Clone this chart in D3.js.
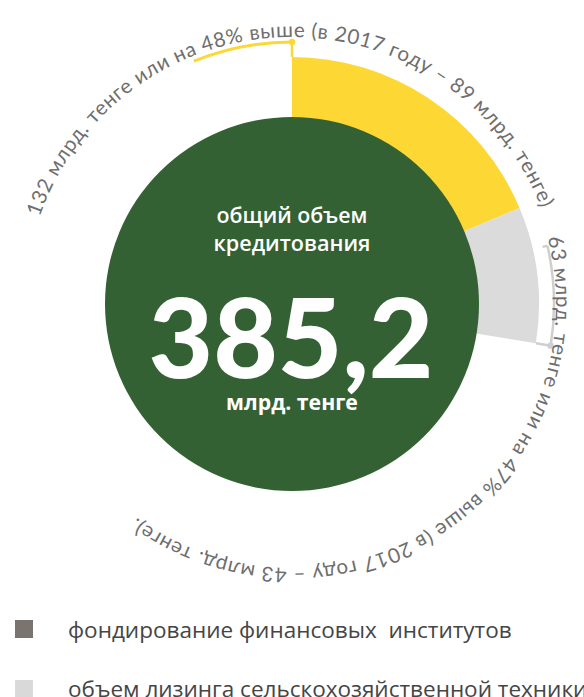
<!DOCTYPE html>
<html>
<head>
<meta charset="utf-8">
<script src="https://cdn.jsdelivr.net/npm/d3@7"></script>
<style>
  html, body { margin: 0; padding: 0; background: #ffffff; overflow: hidden; }
  svg { display: block; }
</style>
</head>
<body>
<svg id="chart" width="584" height="697"></svg>
<script>
// ---- data ----
const categories = ["фондирование финансовых  институтов", "объем лизинга сельскохозяйственной техники"];
const values2018 = [132, 63];
const values2017 = [89, 43];
const growthPct = [48, 47];
const totalLabel = "385,2";
const totalUnit = "млрд. тенге";
const centerTitle = ["общий объем", "кредитования"];

// ---- layout & style ----
const W = 584, H = 697;
const cx = 292, cy = 304;
const coreR = 187;        // green disc
const ringR = 247;        // outer edge of the segments
const bracketR = 262;     // thin callout arcs
const fullTurn = 708;     // value mapped to one full revolution
const segColors = ["#fdd835", "#dcdbdc"];
const bracketColors = ["#fdd835", "#cfcfcf"];
const swatchColors = ["#7a7470", "#d9d9d9"];
const green = "#336133";
const labelGray = "#6e6e6e";
const deg = Math.PI / 180;

const svg = d3.select("#chart");
const g = svg.append("g").attr("transform", `translate(${cx},${cy})`);

const angle = d3.scaleLinear().domain([0, fullTurn]).range([0, 2 * Math.PI]);

// cumulative segment extents
let acc = 0;
const segs = values2018.map((v, i) => {
  const s = { i, v, a0: angle(acc), a1: angle(acc + v) };
  acc += v;
  return s;
});

// ---- segments ----
const arcGen = d3.arc().innerRadius(coreR - 4).outerRadius(ringR);
g.selectAll("path.seg").data(segs).join("path")
  .attr("class", "seg")
  .attr("d", d => arcGen({ startAngle: d.a0, endAngle: d.a1 }))
  .attr("fill", d => segColors[d.i]);

// polar helper: angle measured clockwise from 12 o'clock
const pt = (r, a) => [r * Math.sin(a), -r * Math.cos(a)];
function arcPath(r, a0, a1) {
  const p = d3.path();
  const [x0, y0] = pt(r, a0);
  p.moveTo(x0, y0);
  p.arc(0, 0, r, a0 - Math.PI / 2, a1 - Math.PI / 2, a1 < a0);
  return p.toString();
}

// ---- callout brackets ----
const bracketSpan = 22 * deg;
segs.forEach(s => {
  const anchor = s.i === 0 ? s.a0 : s.a1;
  const from = anchor - bracketSpan;
  const col = bracketColors[s.i];
  g.append("path").attr("d", arcPath(bracketR, from, anchor))
    .attr("fill", "none").attr("stroke", col).attr("stroke-width", s.i === 0 ? 3 : 2.5);
  const [x1, y1] = pt(bracketR, anchor), [x2, y2] = pt(ringR, anchor);
  g.append("line").attr("x1", x1).attr("y1", y1).attr("x2", x2).attr("y2", y2)
    .attr("stroke", col).attr("stroke-width", 2.5);
  g.append("circle").attr("cx", x1).attr("cy", y1).attr("r", 3.2).attr("fill", col);
  if (s.i === 1) {
    const [u1, v1] = pt(bracketR, from), [u2, v2] = pt(bracketR - 5, from);
    g.append("line").attr("x1", u1).attr("y1", v1).attr("x2", u2).attr("y2", v2)
      .attr("stroke", col).attr("stroke-width", 2.5);
  }
});

// ---- curved value labels ----
const labelText = segs.map(s =>
  `${values2018[s.i]} млрд. тенге или на ${growthPct[s.i]}% выше (в 2017 году – ${values2017[s.i]} млрд. тенге)` + (s.i === 1 ? "." : ""));
const labelArcs = [
  { r: 267, a0: -71 * deg, a1: 69 * deg },
  { r: 264, a0: 75.5 * deg, a1: 216 * deg }
];
const defs = svg.append("defs");
labelArcs.forEach((la, i) => {
  defs.append("path").attr("id", "lbl" + i).attr("d", arcPath(la.r, la.a0, la.a1));
  g.append("text")
    .attr("font-family", "Lato, 'Open Sans', sans-serif")
    .attr("font-size", 20.5)
    .attr("fill", labelGray)
    .append("textPath")
    .attr("href", "#lbl" + i)
    .attr("textLength", la.r * (la.a1 - la.a0))
    .attr("lengthAdjust", "spacing")
    .text(labelText[i]);
});

// ---- center disc ----
g.append("circle").attr("r", coreR).attr("fill", green);

function fitWidth(sel, target) {
  const w = sel.node().getComputedTextLength();
  const fs = parseFloat(sel.attr("font-size"));
  sel.attr("font-size", fs * target / w);
}

const titleSizes = [151, 157];
centerTitle.forEach((t, i) => {
  const tx = svg.append("text")
    .attr("x", cx).attr("y", 223 + i * 28)
    .attr("text-anchor", "middle")
    .attr("font-family", "'Open Sans', Lato, sans-serif")
    .attr("font-weight", 600)
    .attr("font-size", 21)
    .attr("fill", "#ffffff")
    .text(t);
  fitWidth(tx, titleSizes[i]);
});

const big = svg.append("text")
  .attr("x", cx - 1).attr("y", 378)
  .attr("text-anchor", "middle")
  .attr("font-family", "Lato, sans-serif")
  .attr("font-weight", 900)
  .attr("font-size", 104)
  .attr("fill", "#ffffff")
  .text(totalLabel);
fitWidth(big, 285);

const unitT = svg.append("text")
  .attr("x", cx).attr("y", 410)
  .attr("text-anchor", "middle")
  .attr("font-family", "'Open Sans', Lato, sans-serif")
  .attr("font-weight", 700)
  .attr("font-size", 20)
  .attr("fill", "#ffffff")
  .text(totalUnit);
fitWidth(unitT, 132);

// ---- legend ----
const legendY = [620, 680];
const legend = svg.append("g");
categories.forEach((c, i) => {
  legend.append("rect")
    .attr("x", 15).attr("y", legendY[i]).attr("width", 18).attr("height", 18)
    .attr("fill", swatchColors[i]);
});
const leg0 = legend.append("text")
  .attr("x", 68).attr("y", legendY[0] + 18)
  .attr("font-family", "'Open Sans', Lato, sans-serif")
  .attr("font-size", 20)
  .attr("fill", "#454545")
  .style("white-space", "pre")
  .text(categories[0]);
fitWidth(leg0, 444);
legend.append("text")
  .attr("x", 68).attr("y", legendY[1] + 17)
  .attr("font-family", "'Open Sans', Lato, sans-serif")
  .attr("font-size", leg0.attr("font-size"))
  .attr("fill", "#454545")
  .style("white-space", "pre")
  .text(categories[1]);
</script>
</body>
</html>
